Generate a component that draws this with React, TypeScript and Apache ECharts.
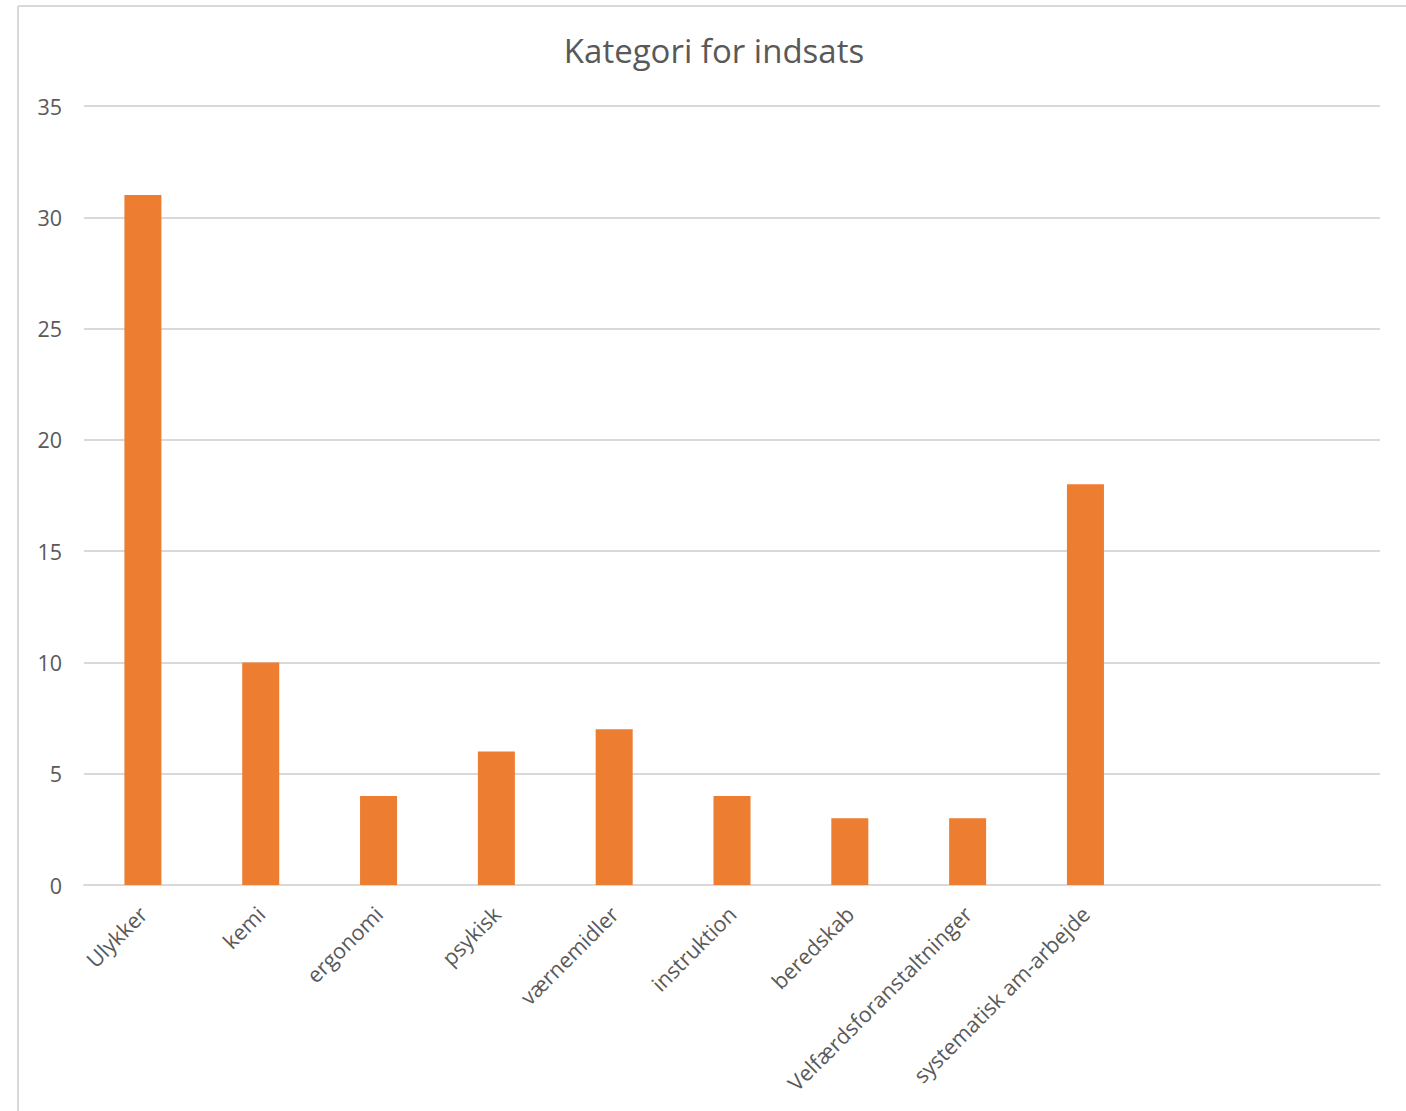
import React, { useEffect, useRef } from "react";
import * as echarts from "echarts";

const categories = [
  "Ulykker",
  "kemi",
  "ergonomi",
  "psykisk",
  "værnemidler",
  "instruktion",
  "beredskab",
  "Velfærdsforanstaltninger",
  "systematisk am-arbejde",
  "",
  "",
];
const values: (number | null)[] = [31, 10, 4, 6, 7, 4, 3, 3, 18, null, null];
const yTicks = { min: 0, max: 35, interval: 5 };
const titleText = "Kategori for indsats";

export default function App() {
  const ref = useRef<HTMLDivElement>(null);
  useEffect(() => {
    if (!ref.current) return;
    const chart = echarts.init(ref.current, undefined, { renderer: "svg" });
    const font = "'Open Sans', 'Noto Sans', sans-serif";
    chart.setOption({
      animation: false,
      backgroundColor: "#ffffff",
      title: {
        text: titleText,
        left: 709,
        top: 29,
        textAlign: "center",
        textStyle: { color: "#595959", fontSize: 33, fontWeight: "normal", fontFamily: font },
      },
      grid: { left: 84, right: 26, top: 106, bottom: 226, containLabel: false },
      xAxis: {
        type: "category",
        data: categories,
        axisLine: { show: true, lineStyle: { color: "#d9d9d9", width: 2 } },
        axisTick: { show: false },
        axisLabel: {
          rotate: 45,
          interval: 0,
          margin: 25,
          color: "#595959",
          fontSize: 21.5,
          fontFamily: font,
        },
      },
      yAxis: {
        type: "value",
        min: yTicks.min,
        max: yTicks.max,
        interval: yTicks.interval,
        axisLine: { show: false },
        axisTick: { show: false },
        axisLabel: { color: "#595959", fontSize: 21.5, margin: 22, fontFamily: font },
        splitLine: { lineStyle: { color: "#d9d9d9", width: 2 } },
      },
      series: [
        {
          type: "bar",
          data: values,
          barWidth: 37,
          itemStyle: { color: "#ED7D31" },
        },
      ],
      graphic: [
        {
          type: "line",
          shape: { x1: 18, y1: 6, x2: 1406, y2: 6 },
          style: { stroke: "#d9d9d9", lineWidth: 2 },
        },
        {
          type: "line",
          shape: { x1: 18, y1: 6, x2: 18, y2: 1111 },
          style: { stroke: "#d9d9d9", lineWidth: 2 },
        },
      ],
    });
    return () => chart.dispose();
  }, []);
  return (
    <div
      ref={ref}
      style={{ position: "absolute", left: 0, top: 0, width: 1406, height: 1111 }}
    />
  );
}
